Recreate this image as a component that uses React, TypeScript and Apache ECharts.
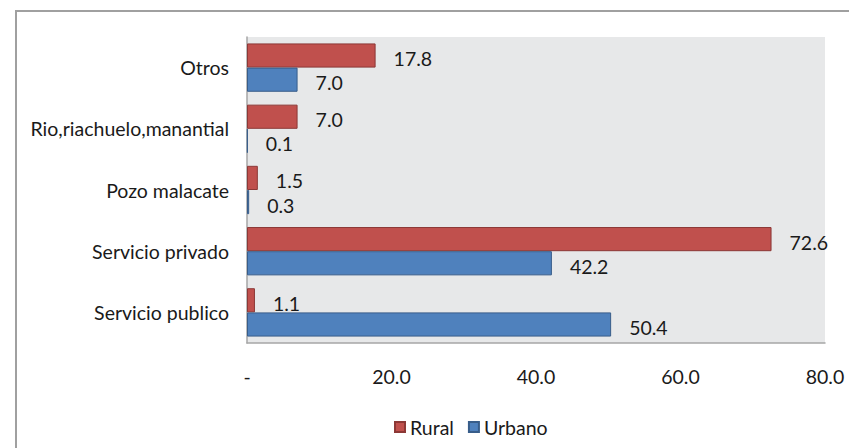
import React, { useEffect, useRef } from "react";
import * as echarts from "echarts";

const categories = ["Servicio publico", "Servicio privado", "Pozo malacate", "Rio,riachuelo,manantial", "Otros"];
const rural = [1.1, 72.6, 1.5, 7.0, 17.8];
const urbano = [50.4, 42.2, 0.3, 0.1, 7.0];
const seriesNames = ["Rural", "Urbano"];
const xTicks = [0, 20, 40, 60, 80];

const FONT = "Lato";
const FS = 19.5;

export default function App() {
  const ref = useRef<HTMLDivElement>(null);
  useEffect(() => {
    const chart = echarts.init(ref.current!, null, { renderer: "svg" });
    const labelCfg = {
      show: true,
      position: "right",
      distance: 18,
      offset: [0, 3],
      color: "#1a1a1a",
      fontFamily: FONT,
      fontSize: FS,
      formatter: (p: any) => Number(p.value).toFixed(1),
    };
    chart.setOption({
      animation: false,
      backgroundColor: "#ffffff",
      graphic: [
        {
          type: "rect",
          shape: { x: 16, y: 11, width: 860, height: 460 },
          style: { fill: "none", stroke: "#a0a0a0", lineWidth: 2 },
          silent: true,
          z: -1,
        },
      ],
      grid: {
        left: 247,
        top: 37,
        right: 24,
        bottom: 105,
        show: true,
        backgroundColor: "#e7e8e9",
        borderWidth: 0,
      },
      legend: {
        data: seriesNames,
        top: 412,
        left: 389,
        icon: "rect",
        itemWidth: 10,
        itemHeight: 10,
        itemGap: 14,
        textStyle: { fontFamily: FONT, fontSize: FS, color: "#1a1a1a" },
      },
      xAxis: {
        type: "value",
        min: xTicks[0],
        max: xTicks[xTicks.length - 1],
        interval: 20,
        axisLine: { show: true, lineStyle: { color: "#a6a6a6", width: 1.5 } },
        axisTick: { show: false },
        splitLine: { show: false },
        axisLabel: {
          margin: 23,
          fontFamily: FONT,
          fontSize: FS,
          color: "#1a1a1a",
          formatter: (v: number) => (v === 0 ? "-" : v.toFixed(1)),
        },
      },
      yAxis: {
        type: "category",
        data: categories,
        axisLine: { show: true, lineStyle: { color: "#a6a6a6", width: 1.5 } },
        axisTick: { show: false },
        axisLabel: { margin: 18, fontFamily: FONT, fontSize: FS, color: "#1a1a1a" },
      },
      series: [
        {
          name: "Rural",
          type: "bar",
          data: rural,
          barGap: "0%",
          barCategoryGap: "21%",
          itemStyle: { color: "#c0504d", borderColor: "#8c3836", borderWidth: 1 },
          label: labelCfg,
        },
        {
          name: "Urbano",
          type: "bar",
          data: urbano,
          barGap: "0%",
          barCategoryGap: "21%",
          itemStyle: { color: "#4f81bd", borderColor: "#385d8a", borderWidth: 1 },
          label: labelCfg,
        },
      ],
    });
    return () => chart.dispose();
  }, []);
  return <div ref={ref} style={{ position: "fixed", left: 0, top: 0, width: 849, height: 448 }} />;
}
